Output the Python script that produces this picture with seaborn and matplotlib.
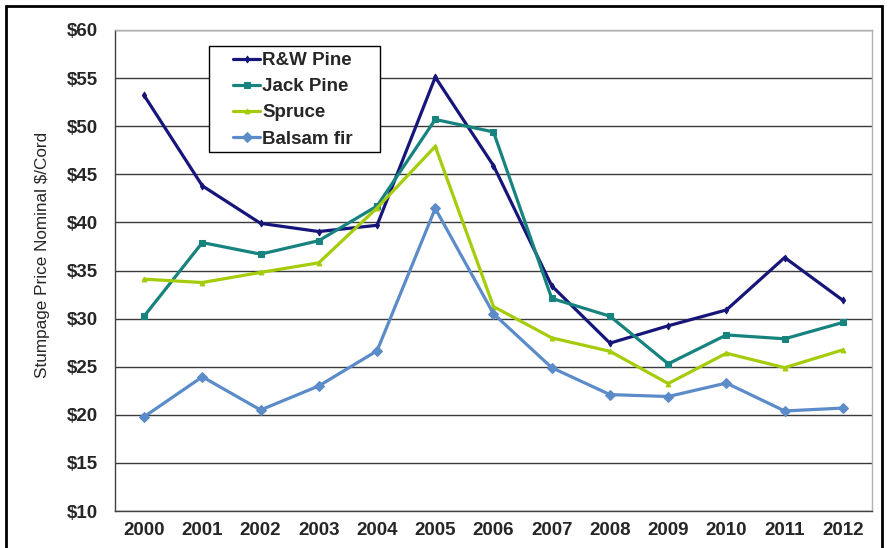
import numpy as np
import pandas as pd
import seaborn as sns
import matplotlib.pyplot as plt
from matplotlib.patches import Rectangle

# Stumpage prices, nominal $/cord
years = [2000, 2001, 2002, 2003, 2004, 2005, 2006, 2007, 2008, 2009, 2010, 2011, 2012]
rw_pine = [53.2, 43.8, 39.9, 39.05, 39.7, 55.1, 45.9, 33.4, 27.45, 29.25, 30.9, 36.35, 31.9]
jack_pine = [30.25, 37.9, 36.7, 38.1, 41.7, 50.7, 49.4, 32.1, 30.25, 25.3, 28.3, 27.9, 29.6]
spruce = [34.1, 33.75, 34.8, 35.8, 41.5, 47.9, 31.25, 28.0, 26.6, 23.25, 26.4, 24.9, 26.75]
balsam_fir = [19.8, 23.95, 20.5, 23.0, 26.65, 41.45, 30.5, 24.9, 22.1, 21.9, 23.3, 20.4, 20.7]

series = ["R&W Pine", "Jack Pine", "Spruce", "Balsam fir"]
values = [rw_pine, jack_pine, spruce, balsam_fir]
colors = ["#16167a", "#17837f", "#a5cc0a", "#5b8bc8"]
markers = ["d", "s", "^", "D"]
msizes = [3.5, 4, 3.5, 5]

df = pd.concat([pd.DataFrame({"Year": years, "Price": v, "Species": s})
                for s, v in zip(series, values)], ignore_index=True)

sns.set_style("white")
plt.rcParams["font.family"] = ["Liberation Sans", "DejaVu Sans"]

fig = plt.figure(figsize=(8.88, 5.48), dpi=100)
ax = fig.add_axes([115 / 888, 37 / 548, 757 / 888, 481 / 548])

for s, c, m, ms in zip(series, colors, markers, msizes):
    sns.lineplot(data=df[df["Species"] == s], x="Year", y="Price", color=c,
                 marker=m, markersize=ms, markeredgecolor=c, linewidth=2.3,
                 label=s, ax=ax)

ax.set_xlim(1999.5, 2012.5)
ax.set_ylim(10, 60)
ax.set_yticks(range(10, 61, 5))
ax.set_yticklabels([f"${v}" for v in range(10, 61, 5)])
ax.set_xticks(years)
ax.set_xticklabels([str(y) for y in years])
ax.set_xticks(np.arange(1999.5, 2013, 1), minor=True)
ax.tick_params(axis="x", which="major", length=0, pad=8)
ax.tick_params(axis="x", which="minor", length=5, width=1, color="#404040", direction="out")
ax.tick_params(axis="y", length=5, width=1, color="#404040", direction="out", pad=7)
for lab in ax.get_xticklabels() + ax.get_yticklabels():
    lab.set_fontweight("bold")
    lab.set_fontsize(13.5)

ax.yaxis.grid(True, color="#3a3a3a", linewidth=1)
ax.set_axisbelow(True)
ax.spines["left"].set_color("#404040")
ax.spines["bottom"].set_color("#404040")
ax.spines["top"].set_color("#b0b0b0")
ax.spines["right"].set_color("#b0b0b0")
for sp in ax.spines.values():
    sp.set_linewidth(1)

ax.set_xlabel("")
ax.set_ylabel("Stumpage Price Nominal $/Cord", fontsize=12.3)
ax.yaxis.set_label_coords(-0.0865, 0.532)

# legend entries without frame, box drawn separately
leg = ax.legend(loc="upper left", bbox_to_anchor=((233 - 115) / 757, (511 - 52) / 481),
                frameon=False, borderpad=0, borderaxespad=0,
                handlelength=1.45, handletextpad=0.1, labelspacing=0.48,
                prop={"weight": "bold", "size": 13.5})
ax.add_patch(Rectangle(((209 - 115) / 757, (511 - 152) / 481), 171 / 757, 106 / 481,
                       transform=ax.transAxes, facecolor="white", edgecolor="black",
                       linewidth=1, zorder=4))
leg.set_zorder(5)

fig.add_artist(Rectangle((6 / 888, -0.05), 876 / 888, (542 / 548) + 0.05,
                         transform=fig.transFigure, fill=False,
                         edgecolor="black", linewidth=2, clip_on=False))

fig.savefig("out.png", dpi=100)
